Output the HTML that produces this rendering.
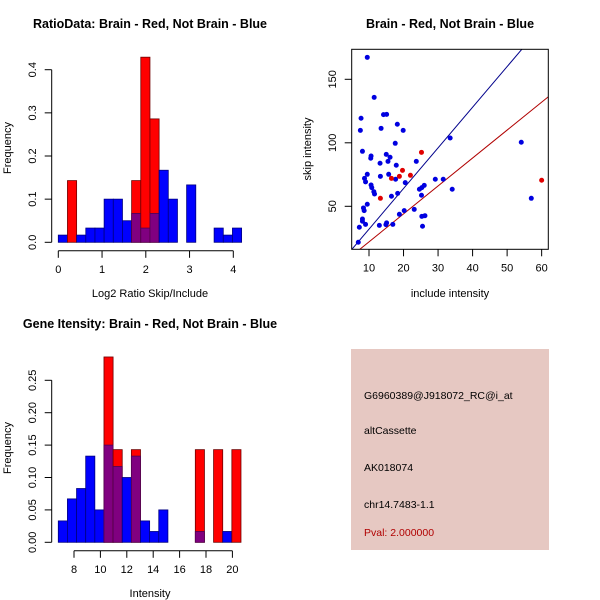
<!DOCTYPE html>
<html><head><meta charset="utf-8"><style>
body{margin:0;background:#fff}
svg{display:block;font-family:"Liberation Sans",sans-serif}
</style></head><body>
<svg id="c" width="600" height="600" xmlns="http://www.w3.org/2000/svg">
<rect x="0" y="0" width="600" height="600" fill="#fff"/>
<g id="p1"></g>
<g id="p2"></g>
<g id="p3"></g>
<g id="p4">
<rect x="351" y="349" width="198" height="201" fill="#e6c8c2"/>
<text x="364" y="399" font-size="10.5" fill="#000">G6960389@J918072_RC@i_at</text>
<text x="364" y="434" font-size="10.5" fill="#000">altCassette</text>
<text x="364" y="471" font-size="10.5" fill="#000">AK018074</text>
<text x="364" y="508" font-size="10.5" fill="#000">chr14.7483-1.1</text>
<text x="364" y="536" font-size="10.5" fill="#b00000">Pval: 2.000000</text>
</g>
</svg>
<script>
// Panel 1 data
const ratioBinStart = 0, ratioBinWidth = 0.2095;
const ratioBlue = [0.0167,0,0.0167,0.033,0.033,0.1,0.1,0.05,0.067,0.033,0.067,0.167,0.1,0,0.133,0,0,0.033,0.0167,0.033];
const ratioRed  = [0,0.143,0,0,0,0,0,0,0.143,0.429,0.286,0,0,0,0,0,0,0,0,0];
const ratioXTicks = [0,1,2,3,4];
const ratioYTicks = ["0.0","0.1","0.2","0.3","0.4"];
// Panel 3 data
const intBinStart = 6.81, intBinWidth = 0.692;
const intBlue = [0.033,0.067,0.083,0.133,0.05,0.15,0.117,0.1,0.133,0.033,0.0167,0.05,0,0,0,0.0167,0,0,0.0167,0];
const intRed  = [0,0,0,0,0,0.286,0.143,0,0.143,0,0,0,0,0,0,0.143,0,0.143,0,0.143];
const intXTicks = [8,10,12,14,16,18,20];
const intYTicks = ["0.00","0.05","0.10","0.15","0.20","0.25"];
// Panel 2 data
const blueInclude = [9.5,11.5,7.7,7.5,8.1,13.5,14.2,15.1,18.2,19.9,17.6,33.5,54.1,10.5,10.6,13.2,15.0,15.5,16.1,17.9,23.7,9.5,13.3,15.7,17.7,20.5,8.7,9.0,10.6,10.8,11.4,11.6,18.3,16.5,24.6,25.3,26.0,25.2,29.2,31.5,34.1,9.5,8.4,8.6,8.1,8.1,9.0,7.2,6.9,13.0,14.9,15.1,16.9,18.8,20.2,23.1,25.3,26.2,25.5,57.0];
const blueSkip = [167.3,135.8,119.3,109.8,93.3,111.4,122.2,122.4,114.6,109.8,99.6,103.8,100.4,87.8,89.6,83.9,90.9,85.4,88.6,82.3,85.4,75.2,73.6,75.2,71.3,68.6,72.0,69.2,66.8,64.7,61.5,59.7,60.2,57.9,63.4,64.7,66.5,58.7,71.3,71.3,63.4,51.6,48.7,46.6,40.0,38.2,35.8,33.5,21.7,35.0,35.6,36.9,35.8,43.7,46.6,47.6,42.1,42.6,34.3,56.3];
const redInclude = [25.2,19.7,22.0,18.8,16.5,13.3,60.0];
const redSkip = [92.5,78.3,74.4,73.6,72.0,56.3,70.5];
const blueSlope = 3.2, redSlope = 2.2;
const scatXTicks = [10,20,30,40,50,60];
const scatYTicks = [50,100,150];

const NS="http://www.w3.org/2000/svg";
function mk(parent,tag,attrs,txt){const e=document.createElementNS(NS,tag);for(const k in attrs)e.setAttribute(k,attrs[k]);if(txt!==undefined)e.textContent=txt;parent.appendChild(e);return e;}

function hist(g,title,xlabel,bs,bw,blue,red,xt,yt,ymaxTick,sx,sy,axX0,axX1){
  const off=g.id==='p3'?300:0;
  const t=mk(g,'text',{x:150,y:28+off,'font-size':12.5,'font-weight':'bold','text-anchor':'middle'},title);
  
  
  const base=sy(0);
  for(let i=0;i<blue.length;i++){
    const x0=sx(bs+i*bw),x1=sx(bs+(i+1)*bw);
    const b=blue[i],r=red[i];
    const hi=Math.max(b,r),lo=Math.min(b,r);
    if(hi>0){
      const rc=mk(g,'rect',{x:x0,y:sy(hi),width:x1-x0,height:base-sy(hi),fill:(r>b?'#ff0000':'#0000ff'),stroke:(r>0?'#700000':'#000080'),'stroke-width':0.8});
      
      
    }
    if(lo>0){
      const rc=mk(g,'rect',{x:x0,y:sy(lo),width:x1-x0,height:base-sy(lo),fill:'#800080',stroke:'#500050','stroke-width':0.8});
      
      
    }
  }
  const ay=base+8.5;
  const xa=mk(g,'line',{x1:sx(axX0),x2:sx(axX1),y1:ay,y2:ay,stroke:'#000'});
  
  
  xt.forEach(v=>{
    mk(g,'line',{x1:sx(v),x2:sx(v),y1:ay,y2:ay+7,stroke:'#000'});
    const tl=mk(g,'text',{x:sx(v),y:ay+22,'font-size':11,'text-anchor':'middle'},String(v));
    
    
  });
  const axx=51.7;
  const ya=mk(g,'line',{x1:axx,x2:axx,y1:sy(0),y2:sy(ymaxTick),stroke:'#000'});
  
  
  yt.forEach(s=>{
    const v=parseFloat(s),y=sy(v);
    mk(g,'line',{x1:axx-7,x2:axx,y1:y,y2:y,stroke:'#000'});
    const tl=mk(g,'text',{x:0,y:0,'font-size':11,'text-anchor':'middle',transform:`translate(36,${y}) rotate(-90)`},s);
    
    
  });
  const xl=mk(g,'text',{x:150,y:297+off,'font-size':11,'text-anchor':'middle'},xlabel);
  
  
  const yl=mk(g,'text',{x:0,y:0,'font-size':11,'text-anchor':'middle',transform:`translate(11,${148+off}) rotate(-90)`},'Frequency');
  
  
}

{
  const sx=v=>58.3+v*43.75, sy=v=>242.3-v*431.5;
  hist(document.getElementById('p1'),'RatioData: Brain - Red, Not Brain - Blue','Log2 Ratio Skip/Include',ratioBinStart,ratioBinWidth,ratioBlue,ratioRed,ratioXTicks,ratioYTicks,0.4,sx,sy,0,4);
}
{
  const sx=v=>74+(v-8)*13.2, sy=v=>542.3-v*648;
  hist(document.getElementById('p3'),'Gene Itensity: Brain - Red, Not Brain - Blue','Intensity',intBinStart,intBinWidth,intBlue,intRed,intXTicks,intYTicks,0.25,sx,sy,8,20);
}
{
  const g=document.getElementById('p2');
  const sx=v=>369+(v-10)*3.453, sy=v=>206.3-(v-50)*1.27;
  const L=351.7,R=548.3,T=49.3,B=249.3;
  const t=mk(g,'text',{x:450,y:28,'font-size':12.5,'font-weight':'bold','text-anchor':'middle'},'Brain - Red, Not Brain - Blue');
  
  
  const defs=mk(g,'clipPath',{id:'clip2'});
  mk(defs,'rect',{x:L,y:T,width:R-L,height:B-T});
  const inner=mk(g,'g',{'clip-path':'url(#clip2)'});
  const x0=0,x1=80;
  const bl=mk(inner,'line',{x1:sx(x0),y1:sy(blueSlope*x0),x2:sx(x1),y2:sy(blueSlope*x1),stroke:'#00008b','stroke-width':1});
  
  
  const rl=mk(inner,'line',{x1:sx(x0),y1:sy(redSlope*x0),x2:sx(x1),y2:sy(redSlope*x1),stroke:'#b00000','stroke-width':1});
  
  
  blueInclude.forEach((v,i)=>{
    const c=mk(inner,'circle',{cx:sx(v),cy:sy(blueSkip[i]),r:2.5,fill:'#0000e0'});
    
    
  });
  redInclude.forEach((v,i)=>{
    const c=mk(inner,'circle',{cx:sx(v),cy:sy(redSkip[i]),r:2.5,fill:'#e00000'});
    
    
  });
  const box=mk(g,'rect',{x:L,y:T,width:R-L,height:B-T,fill:'none',stroke:'#000'});
  
  
  scatXTicks.forEach(v=>{
    mk(g,'line',{x1:sx(v),x2:sx(v),y1:B,y2:B+7,stroke:'#000'});
    const tl=mk(g,'text',{x:sx(v),y:B+22,'font-size':11,'text-anchor':'middle'},String(v));
    
    
  });
  scatYTicks.forEach(v=>{
    const y=sy(v);
    mk(g,'line',{x1:L-7,x2:L,y1:y,y2:y,stroke:'#000'});
    const tl=mk(g,'text',{x:0,y:0,'font-size':11,'text-anchor':'middle',transform:`translate(336,${y}) rotate(-90)`},String(v));
    
    
  });
  const xl=mk(g,'text',{x:450,y:297,'font-size':11,'text-anchor':'middle'},'include intensity');
  
  
  const yl=mk(g,'text',{x:0,y:0,'font-size':11,'text-anchor':'middle',transform:'translate(311,149) rotate(-90)'},'skip intensity');
  
  
}
</script>
</body></html>
